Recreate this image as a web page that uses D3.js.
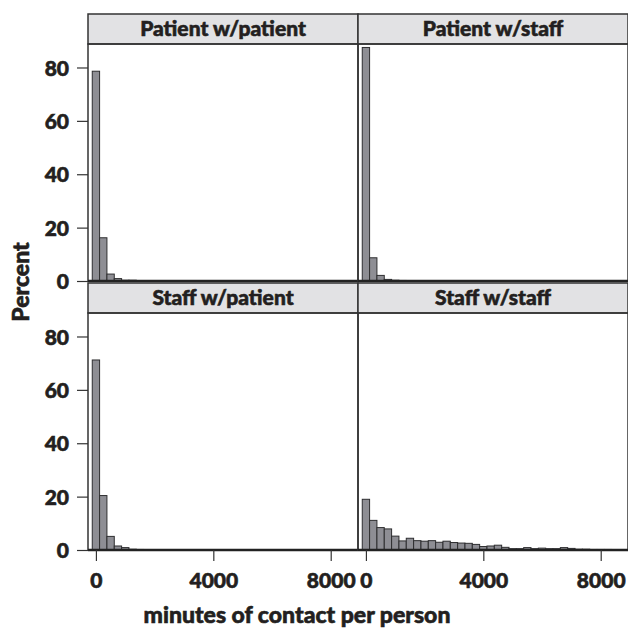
<!DOCTYPE html>
<html>
<head>
<meta charset="utf-8">
<script src="https://cdn.jsdelivr.net/npm/d3@7"></script>
<style>
  body { margin: 0; background: #fff; }
  text { font-family: Lato, "Open Sans", sans-serif; font-weight: 900; fill: #231f20;
         stroke: #231f20; stroke-width: 0.6px; }
</style>
</head>
<body>
<div id="chart"></div>
<script>
(function() {
    'use strict';

    // percent of people per 250-minute bin (bins centred on 0, 250, 500, ...)
    var binWidth = 250;
    var titles = ['Patient w/patient', 'Patient w/staff', 'Staff w/patient', 'Staff w/staff'];
    var patPat     = [78.6, 16.2, 2.6, 0.9, 0.3, 0.3, 0.1];
    var patStaff   = [87.5, 8.7, 2.1, 0.6, 0.3, 0.2, 0.1, 0.1];
    var staffPat   = [71.2, 20.4, 5.1, 1.5, 0.9, 0.3, 0.2, 0.1];
    var staffStaff = [19.0, 11.1, 8.4, 7.9, 5.2, 3.4, 4.4, 3.5, 3.3, 3.5, 2.9, 3.3, 2.8, 2.6, 2.5, 2.1,
                      1.3, 1.5, 1.8, 1.0, 0.5, 0.5, 0.9, 0.5, 0.7, 0.5, 0.5, 0.9, 0.6, 0.3, 0.3, 0.2,
                      0.2, 0.2, 0.1];
    var xTicks = [0, 4000, 8000];
    var yTicks = [0, 20, 40, 60, 80];

    var series = [patPat, patStaff, staffPat, staffStaff];

    var width = 628, height = 634;
    var pw = 270, ph = 237, stripH = 30;
    var lefts = [88, 358];
    var tops = [44, 313];

    var svg = d3.select('#chart')
      .append('svg')
        .attr('width', width)
        .attr('height', height);

    var x = d3.scaleLinear().domain([-270, 8930]).range([0, pw]);
    var y = d3.scaleLinear().domain([0, 88.8]).range([ph, 0]);

    series.forEach(function(vals, i) {
        var col = i % 2, row = Math.floor(i / 2);
        var g = svg.append('g')
            .attr('transform', 'translate(' + lefts[col] + ',' + tops[row] + ')');

        // strip
        g.append('rect')
            .attr('x', 0).attr('y', -stripH)
            .attr('width', pw).attr('height', stripH)
            .attr('fill', '#e2e2e4')
            .attr('stroke', '#333').attr('stroke-width', 1.5);
        g.append('text')
            .attr('x', pw / 2).attr('y', -stripH / 2 + 7)
            .attr('text-anchor', 'middle')
            .style('font-size', '21px')
            .text(titles[i]);

        // bars
        g.selectAll('rect.bar')
            .data(vals)
          .enter().append('rect')
            .attr('class', 'bar')
            .attr('x', function(d, k) { return x(k * binWidth - binWidth / 2); })
            .attr('width', x(binWidth) - x(0))
            .attr('y', function(d) { return y(d); })
            .attr('height', function(d) { return ph - y(d); })
            .attr('fill', '#8e8e94')
            .attr('stroke', '#2e2e30')
            .attr('stroke-width', 1);

        // panel box
        g.append('rect')
            .attr('width', pw).attr('height', ph)
            .attr('fill', 'none')
            .attr('stroke', '#333').attr('stroke-width', 1.5);
        g.append('line')
            .attr('x1', 0).attr('x2', pw)
            .attr('y1', ph).attr('y2', ph)
            .attr('stroke', '#222').attr('stroke-width', 2.5);

        if (col === 0) {
            var ya = g.append('g')
                .call(d3.axisLeft(y).tickValues(yTicks).tickSize(11).tickPadding(8));
            ya.select('.domain').remove();
            ya.selectAll('line').attr('stroke', '#333').attr('stroke-width', 1.2);
            ya.selectAll('text').style('font-size', '21px').attr('dy', '0.36em');
        }
        if (row === 1) {
            var xa = g.append('g')
                .attr('transform', 'translate(0,' + ph + ')')
                .call(d3.axisBottom(x).tickValues(xTicks).tickFormat(d3.format('d'))
                    .tickSize(11).tickPadding(12));
            xa.select('.domain').remove();
            xa.selectAll('line').attr('stroke', '#333').attr('stroke-width', 1.2);
            xa.selectAll('text').style('font-size', '21px');
        }
    });

    svg.append('text')
        .attr('transform', 'translate(29,282) rotate(-90)')
        .attr('text-anchor', 'middle')
        .style('font-size', '23px')
        .text('Percent');

    svg.append('text')
        .attr('x', 297).attr('y', 623)
        .attr('text-anchor', 'middle')
        .style('font-size', '23px')
        .text('minutes of contact per person');
}());
</script>
</body>
</html>
